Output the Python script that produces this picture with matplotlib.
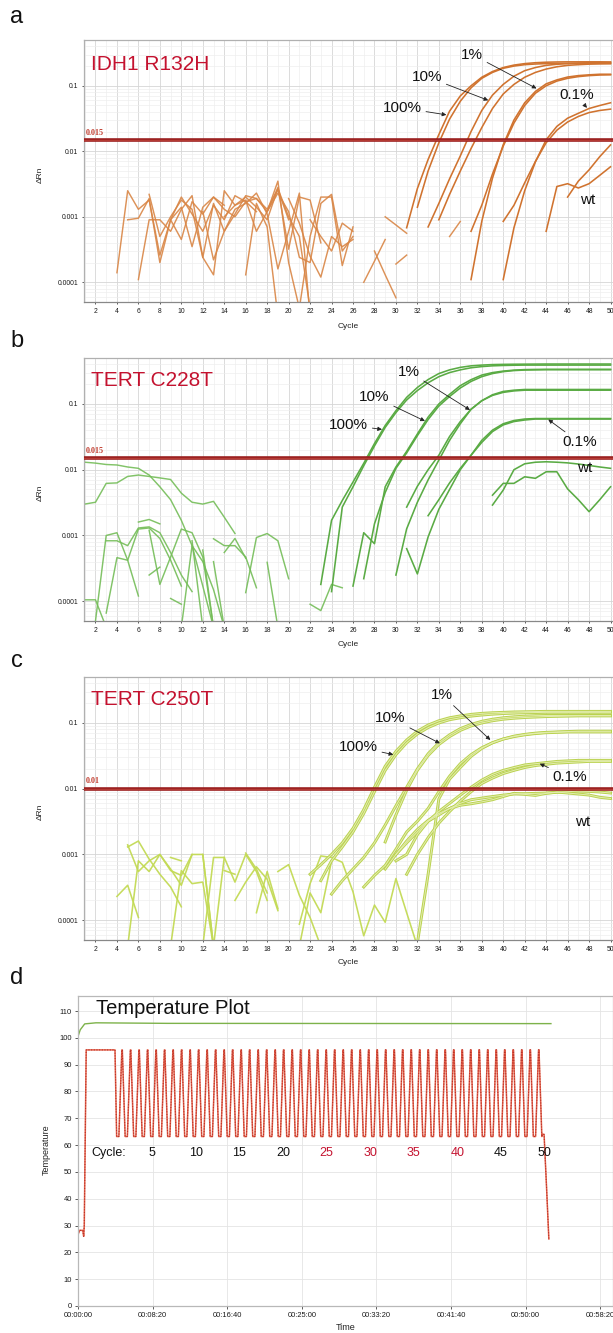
import matplotlib
matplotlib.use('Agg')
import matplotlib.pyplot as plt
import matplotlib.transforms as mtransforms
from matplotlib.ticker import FuncFormatter, NullFormatter, LogLocator
import numpy as np

plt.rcParams['font.family'] = ['Liberation Sans', 'DejaVu Sans']

# ---------------- panel a : IDH1 R132H ----------------
# amplification curves: first cycle and dRn for each cycle after it
a_amp_start = [31, 32, 33, 34, 37, 37, 40, 40, 44, 46]
a_amp = [
    [6.8e-4, 2.7e-3, 7.5e-3, 0.018, 0.041, 0.07, 0.10, 0.135, 0.165, 0.19, 0.207, 0.218, 0.225, 0.229, 0.231, 0.232, 0.232, 0.232, 0.232, 0.231],
    [1.4e-3, 5e-3, 0.0135, 0.031, 0.058, 0.093, 0.13, 0.16, 0.185, 0.20, 0.21, 0.215, 0.218, 0.22, 0.22, 0.22, 0.22, 0.22, 0.22],
    [7e-4, 1.6e-3, 3.8e-3, 8.5e-3, 0.02, 0.042, 0.072, 0.105, 0.14, 0.17, 0.19, 0.205, 0.213, 0.218, 0.222, 0.225, 0.226, 0.227],
    [9e-4, 2.2e-3, 5e-3, 0.011, 0.023, 0.045, 0.075, 0.105, 0.135, 0.16, 0.18, 0.195, 0.205, 0.21, 0.214, 0.216, 0.217],
    [1.1e-4, 8.5e-4, 3.9e-3, 0.0126, 0.030, 0.055, 0.082, 0.107, 0.123, 0.136, 0.143, 0.147, 0.15, 0.15],
    [6e-4, 1.5e-3, 4.5e-3, 0.012, 0.027, 0.05, 0.077, 0.1, 0.118, 0.13, 0.138, 0.143, 0.146, 0.147],
    [1.1e-4, 6.8e-4, 2.5e-3, 6.9e-3, 0.015, 0.024, 0.032, 0.038, 0.045, 0.050, 0.055],
    [8.5e-4, 1.5e-3, 3.3e-3, 7e-3, 0.0135, 0.021, 0.028, 0.034, 0.039, 0.042, 0.044],
    [6e-4, 2.9e-3, 3.2e-3, 2.75e-3, 3.2e-3, 4.3e-3, 5.8e-3],
    [2e-3, 3.5e-3, 5.2e-3, 8.3e-3, 0.0125],
]
a_noise_start = [4, 5, 6, 7, 9, 12, 14, 16, 18, 21, 22, 20, 35, 27, 28, 29, 30]
a_noise = [
    [1.4e-4, 2.5e-3, 1.3e-3, 1.8e-3, 2.6e-4, 9e-4, 4.5e-4, 1.7e-3, 1.1e-3, 2.0e-3, 1.5e-3],
    [9e-4, 9.5e-4, 1.9e-3, 2.0e-4, 9e-4, 1.4e-3, 3.5e-4, 1.4e-3, 2.0e-3, 1.3e-3, 1.0e-3, 1.7e-3, 1.2e-3],
    [1.1e-4, 9e-4, 9e-4, 6e-4, 1.3e-3, 2.1e-3, 2.4e-4, 1.6e-3, 6e-4, 1.1e-3, 2.1e-3, 1.9e-3, 1.3e-3, 2.6e-3, 9e-4],
    [2.2e-3, 5e-4, 1.0e-3, 1.8e-3, 1.3e-3, 2.4e-4, 1.3e-4, 2.5e-3, 1.5e-3, 1.8e-3, 6e-4, 1.2e-3, 2.8e-3, 3.2e-4, 2.0e-3, 1.8e-3, 4e-4],
    [9e-4, 2.0e-3, 1.1e-3, 6e-4, 1.5e-3, 9e-4, 2.1e-3, 1.7e-3, 1.9e-3, 1.2e-3, 3.5e-3, 2.0e-4, 4e-5],
    [1.2e-3, 2.2e-4, 6e-4, 1.3e-3, 1.6e-3, 2.3e-3, 1.1e-3, 1.6e-4, 6e-4, 2.3e-3, 3e-5],
    [1.0e-3, 1.5e-3, 2.0e-3, 1.4e-3, 9e-4, 2.7e-3, 1.0e-3, 5e-4, 4e-5],
    [1.3e-4, 1.6e-3, 7e-4, 3e-5],
    [1.2e-3, 2.3e-3, 1.2e-3, 2.4e-4, 2.0e-4, 1.6e-3, 2.2e-3, 3e-4, 5e-4],
    [4e-5, 5e-4, 2.0e-3, 2.0e-3, 1.8e-4, 7e-4],
    [9e-4, 5e-4, 3e-4, 8e-4, 6e-4],
    [1.9e-3, 8e-4, 2.5e-4, 1.2e-4, 5e-4, 3.5e-4, 4.5e-4],
    [5e-4, 8.5e-4],
    [1e-4, 2.1e-4, 4.5e-4],
    [3e-4, 1.3e-4, 5.8e-5],
    [1e-3, 7.5e-4, 5.6e-4],
    [1.9e-4, 2.6e-4],
]

# ---------------- panel b : TERT C228T ----------------
b_amp_start = [23, 24, 26, 27, 30, 31, 31, 33, 39, 39]
b_amp = [
    [1.8e-4, 1.7e-3, 3.4e-3, 6.5e-3, 0.0125, 0.025, 0.047, 0.079, 0.126, 0.178, 0.235, 0.29, 0.33, 0.36, 0.38, 0.39, 0.397, 0.40, 0.402, 0.403, 0.404, 0.405, 0.405, 0.405, 0.405, 0.405, 0.405, 0.405],
    [1.4e-4, 2.7e-3, 5.5e-3, 0.0115, 0.023, 0.044, 0.074, 0.115, 0.16, 0.21, 0.26, 0.30, 0.33, 0.355, 0.37, 0.38, 0.385, 0.388, 0.39, 0.39, 0.39, 0.39, 0.39, 0.39, 0.39, 0.39, 0.39],
    [1.7e-4, 1.1e-3, 7.5e-4, 5.5e-3, 0.011, 0.019, 0.035, 0.063, 0.10, 0.14, 0.19, 0.234, 0.275, 0.30, 0.316, 0.327, 0.333, 0.335, 0.336, 0.336, 0.336, 0.336, 0.336, 0.336, 0.336],
    [2.2e-4, 1.5e-3, 4.5e-3, 0.0105, 0.018, 0.033, 0.058, 0.093, 0.13, 0.175, 0.22, 0.26, 0.29, 0.31, 0.322, 0.328, 0.33, 0.332, 0.332, 0.332, 0.332, 0.332, 0.332, 0.332],
    [2.5e-4, 1.26e-3, 3.2e-3, 7e-3, 0.014, 0.028, 0.05, 0.083, 0.112, 0.138, 0.155, 0.162, 0.166, 0.166, 0.166, 0.166, 0.166, 0.166, 0.166, 0.166, 0.166],
    [2.7e-3, 5.6e-3, 0.01, 0.0166, 0.032, 0.054, 0.083, 0.112, 0.135, 0.15, 0.158, 0.162, 0.162, 0.162, 0.162, 0.162, 0.162, 0.162, 0.162, 0.162],
    [6.3e-4, 2.6e-4, 9.5e-4, 2.5e-3, 5e-3, 0.01, 0.0166, 0.028, 0.04, 0.05, 0.056, 0.059, 0.06, 0.06, 0.06, 0.06, 0.06, 0.06, 0.06, 0.06],
    [2e-3, 3.5e-3, 6.3e-3, 0.0105, 0.0166, 0.026, 0.038, 0.048, 0.054, 0.057, 0.059, 0.059, 0.059, 0.059, 0.059, 0.059, 0.059, 0.059],
    [2.9e-3, 4.9e-3, 0.01, 0.0123, 0.013, 0.0132, 0.013, 0.0127, 0.0122, 0.0116, 0.011, 0.0105],
    [4.1e-3, 6.2e-3, 6.2e-3, 7.8e-3, 7.4e-3, 9.3e-3, 9.3e-3, 5.1e-3, 3.5e-3, 2.3e-3, 3.5e-3, 5.5e-3],
]
b_noise_start = [1, 1, 1, 2, 3, 3, 6, 7, 7, 9, 10, 11, 12, 13, 13, 14, 16, 18, 22]
b_noise = [
    [0.013, 0.0126, 0.012, 0.0118, 0.011, 0.0105, 8.3e-3, 5.5e-3, 3.5e-3, 1.7e-3, 7e-4, 1.7e-4, 4e-5],
    [3e-3, 3.2e-3, 6.2e-3, 6.3e-3, 7.9e-3, 8.3e-3, 7.9e-3, 7.5e-3, 7.1e-3, 4.4e-3, 3.2e-3, 3.0e-3, 3.3e-3, 1.9e-3, 1.07e-3],
    [1.05e-4, 1.05e-4, 4e-5],
    [5e-5, 1.0e-3, 1.1e-3, 4.2e-4, 1.2e-4],
    [8.3e-4, 8.3e-4, 7e-4, 1.3e-3, 1.35e-3, 1.1e-3, 5.5e-4, 2.5e-4, 1.4e-4],
    [6.6e-5, 4.6e-4, 4.2e-4, 1.25e-3, 1.3e-3, 9e-4, 4.2e-4, 1.7e-4],
    [1.6e-3, 1.75e-3, 1.5e-3],
    [1.2e-3, 1.8e-4, 4.7e-4, 1.25e-3, 1.1e-3, 4.7e-4, 4e-5],
    [2.5e-4, 3.3e-4],
    [1.1e-4, 9e-5],
    [4e-5, 7e-4, 4e-4, 1.5e-4, 4e-5],
    [8.3e-4, 4e-5],
    [6e-4, 4e-5],
    [8.9e-4, 7e-4, 7e-4, 4.7e-4, 1.6e-4],
    [4e-4, 4e-5],
    [5.5e-4, 9e-4, 4.5e-4],
    [1.35e-4, 9.3e-4, 1.07e-3, 8.3e-4, 2.2e-4],
    [3.9e-4, 4e-5],
    [9e-5, 7.2e-5, 1.8e-4, 1.6e-4],
]

# ---------------- panel c : TERT C250T ----------------
c_amp_start = [22, 23, 24, 29, 32, 27, 30, 31, 30, 29]
c_amp = [
    [5e-4, 7e-4, 1.0e-3, 1.5e-3, 2.5e-3, 4.8e-3, 0.0105, 0.022, 0.037, 0.055, 0.075, 0.093, 0.108, 0.12, 0.128, 0.135, 0.14, 0.143, 0.145, 0.147, 0.148, 0.149, 0.15, 0.15, 0.15, 0.15, 0.15, 0.15, 0.15],
    [4e-4, 8e-4, 1.3e-3, 2.2e-3, 4.2e-3, 9e-3, 0.019, 0.033, 0.05, 0.068, 0.085, 0.1, 0.112, 0.12, 0.127, 0.132, 0.136, 0.139, 0.141, 0.143, 0.144, 0.145, 0.145, 0.145, 0.145, 0.145, 0.145, 0.145],
    [2.5e-4, 4e-4, 6e-4, 9e-4, 1.5e-3, 2.8e-3, 5.5e-3, 0.0105, 0.02, 0.034, 0.05, 0.066, 0.082, 0.095, 0.106, 0.114, 0.12, 0.124, 0.127, 0.129, 0.13, 0.13, 0.13, 0.13, 0.13, 0.13, 0.13],
    [1.55e-3, 4e-3, 9.5e-3, 0.019, 0.032, 0.047, 0.062, 0.077, 0.09, 0.1, 0.108, 0.114, 0.118, 0.121, 0.123, 0.125, 0.126, 0.127, 0.128, 0.128, 0.128, 0.128],
    [4.5e-5, 5e-4, 7e-3, 0.014, 0.021, 0.031, 0.041, 0.05, 0.057, 0.063, 0.067, 0.07, 0.072, 0.073, 0.074, 0.075, 0.075, 0.075, 0.075],
    [3.2e-4, 4.8e-4, 6.8e-4, 1.2e-3, 2.2e-3, 3.2e-3, 5e-3, 9e-3, 0.0155, 0.024, 0.033, 0.042, 0.05, 0.057, 0.062, 0.066, 0.069, 0.071, 0.072, 0.073, 0.073, 0.073, 0.073, 0.073],
    [1e-3, 1.5e-3, 2.2e-3, 3.2e-3, 4.5e-3, 6e-3, 8e-3, 0.0105, 0.0135, 0.0165, 0.019, 0.021, 0.023, 0.024, 0.025, 0.026, 0.0265, 0.027, 0.027, 0.027, 0.027],
    [5e-4, 1e-3, 1.8e-3, 3e-3, 4.5e-3, 6.5e-3, 9e-3, 0.012, 0.0145, 0.017, 0.019, 0.021, 0.0225, 0.0235, 0.0245, 0.025, 0.0255, 0.026, 0.026, 0.026],
    [8e-4, 1.0e-3, 2.0e-3, 3.2e-3, 4e-3, 5e-3, 5.6e-3, 5.9e-3, 6.3e-3, 6.8e-3, 7.6e-3, 8.5e-3, 8.2e-3, 7.9e-3, 8.5e-3, 8.9e-3, 8.6e-3, 8.3e-3, 8e-3, 7.4e-3, 7.1e-3],
    [6e-4, 1e-3, 1.6e-3, 2.4e-3, 3.3e-3, 4.2e-3, 5e-3, 6e-3, 6.8e-3, 7.2e-3, 7.6e-3, 8e-3, 8.3e-3, 8.4e-3, 8.5e-3, 8.6e-3, 8.8e-3, 9e-3, 9.2e-3, 9.1e-3, 8.9e-3, 8.6e-3],
]
c_noise_start = [4, 5, 5, 5, 9, 9, 12, 14, 15, 16, 17, 19, 21, 21, 12, 13]
c_noise = [
    [2.3e-4, 3.4e-4, 1.1e-4],
    [1.3e-3, 1.6e-3, 8.5e-4, 5e-4, 3.2e-4, 1.6e-4],
    [4e-5, 8e-4, 5.5e-4, 1.0e-3, 6e-4, 3.4e-4, 1.0e-3, 1.0e-3, 4e-5],
    [1.4e-3, 5.5e-4, 8e-4, 1.0e-3, 5.7e-4, 4.8e-4, 1.0e-3],
    [4e-5, 5.7e-4, 3.6e-4, 3.8e-4, 4e-5],
    [9e-4, 8e-4],
    [4e-5, 9e-4, 9e-4, 3.8e-4, 1.0e-3, 5.5e-4, 2e-4],
    [5.7e-4, 5e-4],
    [2e-4, 3.8e-4, 6.5e-4, 4.2e-4, 1.4e-4],
    [1.05e-3, 6e-4, 2.6e-4],
    [1.3e-4, 5.5e-4, 1.5e-4],
    [5.5e-4, 7e-4, 2.4e-4, 1.1e-4, 4e-5],
    [8.7e-5, 3.6e-4, 9.5e-4, 9e-4, 7.6e-4, 2.7e-4, 5.8e-5, 1.7e-4, 9.3e-5, 4.3e-4, 1.3e-4, 4e-5],
    [4e-5, 2.6e-4, 1.3e-4, 8e-4],
    [1.0e-3, 4e-5],
    [4e-5, 9e-4],
]

# ---------------- panel d : temperature plot ----------------
lid_time = [0, 15, 45, 120, 600, 3170]
lid_temp = [100.5, 103.0, 105.2, 105.6, 105.4, 105.3]
pre_time = [0, 10, 32, 38, 42, 55, 248]
pre_temp = [26.5, 28.2, 28.2, 26.0, 30.0, 95.5, 95.5]
cycle_first = 259
cycle_period = 57.0
n_cycles = 50
cycle_offset = [0, 15, 35, 38, 57]
cycle_temp = [63.2, 63.2, 95.5, 95.5, 63.2]
post_time = [3112, 3124, 3140, 3156]
post_temp = [64.0, 64.0, 45.0, 25.0]
cycle_marks = [5, 10, 15, 20, 25, 30, 35, 40, 45, 50]
cycle_mark_red = [25, 30, 35, 40]

W, H = 613, 1333
fig = plt.figure(figsize=(W / 100, H / 100), dpi=100)


def box(left, top, right, bottom):
    return [left / W, 1 - bottom / H, (right - left) / W, (bottom - top) / H]


def ftext(x, y, s, **kw):
    fig.text(x / W, 1 - y / H, s, **kw)


def style_amp(ax):
    ax.set_yscale('log')
    ax.set_xlim(0.93, 50.23)
    ax.set_ylim(5e-5, 0.5)
    ax.set_xticks(range(2, 51, 2))
    ax.set_xticks(range(1, 51, 2), minor=True)
    ax.set_yticks([1e-4, 1e-3, 1e-2, 1e-1])
    ax.set_yticklabels(['0.0001', '0.001', '0.01', '0.1'])
    ax.yaxis.set_minor_locator(LogLocator(base=10, subs=np.arange(2, 10), numticks=20))
    ax.yaxis.set_minor_formatter(NullFormatter())
    ax.grid(which='major', color='#d6d6d6', lw=0.6)
    ax.grid(which='minor', color='#ededed', lw=0.45)
    ax.set_axisbelow(True)
    ax.tick_params(labelsize=4.9, length=1.5, width=0.5, pad=2.5, colors='#1a1a1a')
    ax.tick_params(which='minor', length=0)
    for s in ax.spines.values():
        s.set_color('#b0b0b0')
        s.set_linewidth(0.9)
    ax.spines['bottom'].set_color('#888888')
    ax.spines['right'].set_visible(False)


def draw(ax, starts, curves, color, lw, **kw):
    for s, vals in zip(starts, curves):
        x = np.arange(s, s + len(vals))
        ax.plot(x, vals, color=color, lw=lw, solid_joinstyle='round', **kw)


arrow_kw = dict(arrowstyle='-|>', color='#222222', lw=0.6, mutation_scale=6, shrinkA=1, shrinkB=0)


def labels(ax, items, wt_pos):
    for txt, tpos, tip in items:
        ax.annotate(txt, xy=tip, xytext=tpos, textcoords='data', ha='center', va='center',
                    fontsize=11, color='#111111', arrowprops=arrow_kw, zorder=6)
    ax.text(wt_pos[0], wt_pos[1], 'wt', ha='center', va='center', fontsize=11, color='#111111', zorder=6)


def threshold(ax, thr, label):
    ax.axhline(thr, color='#9a1f1f', lw=2.6, zorder=4)
    ax.axhline(thr, color='#b53a33', lw=0.9, zorder=4)
    tr = mtransforms.blended_transform_factory(ax.transAxes, ax.transData)
    ax.text(0.004, thr * 1.12, label, transform=tr, fontsize=5.8, color='#c0392b',
            family=['Liberation Serif', 'DejaVu Serif'], weight='bold', va='bottom', ha='left', zorder=5)


panel_boxes = [box(84, 40, 613, 302), box(84, 358, 613, 621), box(84, 677, 613, 940)]
panel_tops = [40, 358, 677]

# panel a
axa = fig.add_axes(panel_boxes[0])
style_amp(axa)
draw(axa, a_noise_start, a_noise, '#d98646', 1.05, alpha=0.9)
draw(axa, a_amp_start, a_amp, '#d0732f', 1.15)
threshold(axa, 0.015, '0.015')
axa.text(0.013, 0.906, 'IDH1 R132H', transform=axa.transAxes, fontsize=15, color='#c4122f', va='center', ha='left')
labels(axa, [('1%', (37.1, 0.30), (43.1, 0.091)),
             ('10%', (32.9, 0.137), (38.6, 0.060)),
             ('100%', (30.6, 0.046), (34.7, 0.036)),
             ('0.1%', (46.8, 0.073), (47.8, 0.046))], (47.9, 0.0018))

# panel b
axb = fig.add_axes(panel_boxes[1])
style_amp(axb)
draw(axb, b_noise_start, b_noise, '#74bd58', 1.05, alpha=0.9)
draw(axb, b_amp_start, b_amp, '#5aab44', 1.15)
threshold(axb, 0.015, '0.015')
axb.text(0.013, 0.916, 'TERT C228T', transform=axb.transAxes, fontsize=15, color='#c4122f', va='center', ha='left')
labels(axb, [('1%', (31.2, 0.31), (36.9, 0.081)),
             ('10%', (28.0, 0.128), (32.7, 0.055)),
             ('100%', (25.6, 0.048), (28.7, 0.041)),
             ('0.1%', (47.1, 0.026), (44.2, 0.058))], (47.6, 0.0105))

# panel c
axc = fig.add_axes(panel_boxes[2])
style_amp(axc)
draw(axc, c_noise_start, c_noise, '#c3da55', 1.15, alpha=0.95)
draw(axc, c_amp_start, c_amp, '#bad24f', 2.1)
draw(axc, c_amp_start, c_amp, '#e3edb0', 0.7)
threshold(axc, 0.01, '0.01')
axc.text(0.013, 0.914, 'TERT C250T', transform=axc.transAxes, fontsize=15, color='#c4122f', va='center', ha='left')
labels(axc, [('1%', (34.3, 0.267), (38.8, 0.055)),
             ('10%', (29.5, 0.119), (34.1, 0.049)),
             ('100%', (26.5, 0.043), (29.75, 0.033)),
             ('0.1%', (46.2, 0.015), (43.4, 0.024))], (47.4, 0.0031))

for ax, top in zip([axa, axb, axc], panel_tops):
    ftext(348, top + 286, 'Cycle', fontsize=6, ha='center', va='center', color='#222222')
    ftext(40, top + 135, 'ΔRn', fontsize=6, ha='center', va='center', rotation=90, color='#222222')

# panel d
axd = fig.add_axes(box(78, 996, 613, 1306))
cyc_t = [cycle_first + k * cycle_period + o for k in range(n_cycles) for o in cycle_offset]
cyc_v = [v for k in range(n_cycles) for v in cycle_temp]
red_t = pre_time + cyc_t + post_time
red_v = pre_temp + cyc_v + post_temp
axd.plot(lid_time, lid_temp, color='#7db24a', lw=1.0)
axd.plot(red_t, red_v, color='#e4614a', lw=1.1)
axd.plot(red_t, red_v, color='#b8322a', lw=0.8, ls=(0, (1, 1.4)))
axd.set_xlim(0, 3586)
axd.set_ylim(0, 115.6)
axd.set_xticks(range(0, 3501, 500))
axd.set_yticks(range(0, 111, 10))
axd.xaxis.set_major_formatter(FuncFormatter(
    lambda v, p: '%02d:%02d:%02d' % (int(v) // 3600, (int(v) % 3600) // 60, int(v) % 60)))
axd.grid(color='#e4e4e4', lw=0.6)
axd.set_axisbelow(True)
axd.tick_params(labelsize=5.4, length=2, width=0.5, pad=2.5, colors='#1a1a1a')
for s in axd.spines.values():
    s.set_color('#b8b8b8')
    s.set_linewidth(0.9)
axd.text(0.034, 0.961, 'Temperature Plot', transform=axd.transAxes, fontsize=14.5, va='center', ha='left', color='#111111')
axd.text(87, 56.9, 'Cycle:', fontsize=9, ha='left', va='center', color='#111111')
for n in cycle_marks:
    col = '#c4122f' if n in cycle_mark_red else '#111111'
    axd.text(203 + 58.5 * n, 56.9, str(n), fontsize=9, ha='center', va='center', color=col)
ftext(346, 1327, 'Time', fontsize=6.5, ha='center', va='center', color='#222222')
ftext(46, 1150, 'Temperature', fontsize=6.5, ha='center', va='center', rotation=90, color='#222222')

# panel letters
for lab, y in zip(['a', 'b', 'c', 'd'], [17, 341, 661, 978]):
    ftext(17, y, lab, fontsize=17, ha='center', va='center', color='#111111')

fig.savefig('out.png', dpi=100)
